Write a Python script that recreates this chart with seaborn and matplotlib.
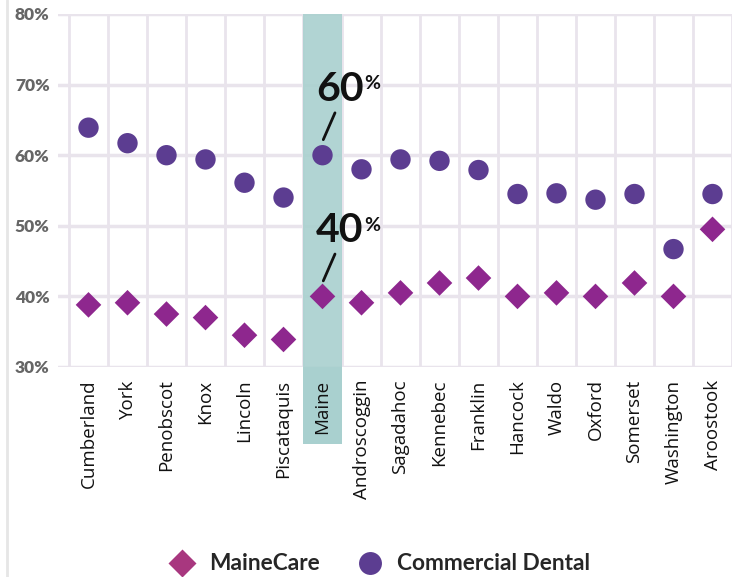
import pandas as pd
import seaborn as sns
import matplotlib.pyplot as plt
from matplotlib.lines import Line2D
from matplotlib.patches import Rectangle
import numpy as np

# Dados (percentuais)
condados = ["Cumberland", "York", "Penobscot", "Knox", "Lincoln", "Piscataquis",
            "Maine", "Androscoggin", "Sagadahoc", "Kennebec", "Franklin",
            "Hancock", "Waldo", "Oxford", "Somerset", "Washington", "Aroostook"]
mainecare = [38.8, 39.1, 37.5, 37.0, 34.5, 33.9, 40.0, 39.1, 40.5, 41.9, 42.6,
             40.0, 40.5, 40.0, 41.9, 40.0, 49.5]
comercial = [63.9, 61.7, 60.0, 59.4, 56.1, 54.0, 60.0, 58.0, 59.4, 59.2, 57.9,
             54.5, 54.6, 53.7, 54.5, 46.7, 54.5]
destaque = "Maine"

tabela = pd.DataFrame({"Condado": condados * 2,
                       "Valor": mainecare + comercial,
                       "Serie": ["MaineCare"] * len(condados) + ["Commercial Dental"] * len(condados)})

sns.set_theme(style="white")
plt.rcParams["font.family"] = ["Lato", "DejaVu Sans"]

cor_mc = "#8e278e"
cor_cd = "#5c3d91"
cor_grade = "#e9e4ec"
cor_faixa = "#a9d0cf"

fig = plt.figure(figsize=(7.38, 5.77), dpi=100)
esq, base, larg, alt = 58 / 738, 1 - 367 / 577, 674 / 738, 353 / 577
ax = fig.add_axes([esq, base, larg, alt])

n = len(condados)
x0 = -0.5 - 11 / 39
ax.set_xlim(x0, n - 0.5)
ax.set_ylim(30, 80)

# grade
ax.set_yticks([30, 40, 50, 60, 70, 80])
ax.set_yticklabels([f"{v}%" for v in [30, 40, 50, 60, 70, 80]],
                   fontsize=12.5, fontweight="heavy", color="#666666")
ax.set_xticks(np.arange(n))
ax.set_xticklabels(condados, rotation=90, fontsize=13.5, color="#111111",
                   family=["Open Sans", "DejaVu Sans"])
ax.set_xticks(np.arange(n + 1) - 0.5, minor=True)
ax.tick_params(axis="x", which="major", length=0, pad=9)
ax.tick_params(axis="x", which="minor", length=6, color=cor_grade, width=2)
ax.tick_params(axis="y", length=0, pad=6)
ax.grid(axis="y", which="major", color=cor_grade, lw=2.5)
ax.grid(axis="x", which="minor", color=cor_grade, lw=2)
ax.set_axisbelow(True)
for s in ax.spines.values():
    s.set_visible(False)

# faixa do Maine: dentro do eixo por cima da grade, e abaixo do eixo por trás do rótulo
i = condados.index(destaque)
ax.axvspan(i - 0.5, i + 0.5, color=cor_faixa, alpha=0.9, lw=0, zorder=1.5)
unid = larg / (n - 0.5 - x0)
fig.add_artist(Rectangle((esq + (i - 0.5 - x0) * unid, 1 - 444 / 577), unid,
                         base - (1 - 444 / 577), transform=fig.transFigure,
                         color=cor_faixa, lw=0, zorder=-1))

sns.scatterplot(data=tabela[tabela["Serie"] == "Commercial Dental"], x="Condado", y="Valor",
                marker="o", s=215, color=cor_cd, edgecolor="none", ax=ax, zorder=3, legend=False)
sns.scatterplot(data=tabela[tabela["Serie"] == "MaineCare"], x="Condado", y="Valor",
                marker="D", s=170, color=cor_mc, edgecolor="none", ax=ax, zorder=3, legend=False)
ax.set_xlabel("")
ax.set_ylabel("")

# anotações
for v in [comercial[i], mainecare[i]]:
    ax.plot([i + 0.02, i + 0.32], [v + 2.2, v + 6.0], color="#111111", lw=2, zorder=4)
    ax.text(i - 0.17, v + 6.7, f"{v:.0f}", fontsize=29.5, fontweight="bold",
            color="#111111", ha="left", va="bottom", zorder=4)
    ax.text(i + 1.06, v + 8.9, "%", fontsize=14, fontweight="bold",
            color="#111111", ha="left", va="bottom", zorder=4)

# legenda
handles = [Line2D([], [], marker="D", ls="", color="#a8377f", markersize=14, mec="none"),
           Line2D([], [], marker="o", ls="", color=cor_cd, markersize=16.5, mec="none")]
fig.legend(handles, ["MaineCare", "Commercial Dental"], loc="center",
           bbox_to_anchor=(379 / 738, 1 - 564 / 577), ncol=2, frameon=False,
           prop={"weight": "bold", "size": 16.3}, handletextpad=0.6,
           columnspacing=1.6, handlelength=1.2)

fig.add_artist(Line2D([7 / 738, 7 / 738], [0, 1], color="#e6e6e6", lw=2))

plt.savefig("out.png", dpi=100)
